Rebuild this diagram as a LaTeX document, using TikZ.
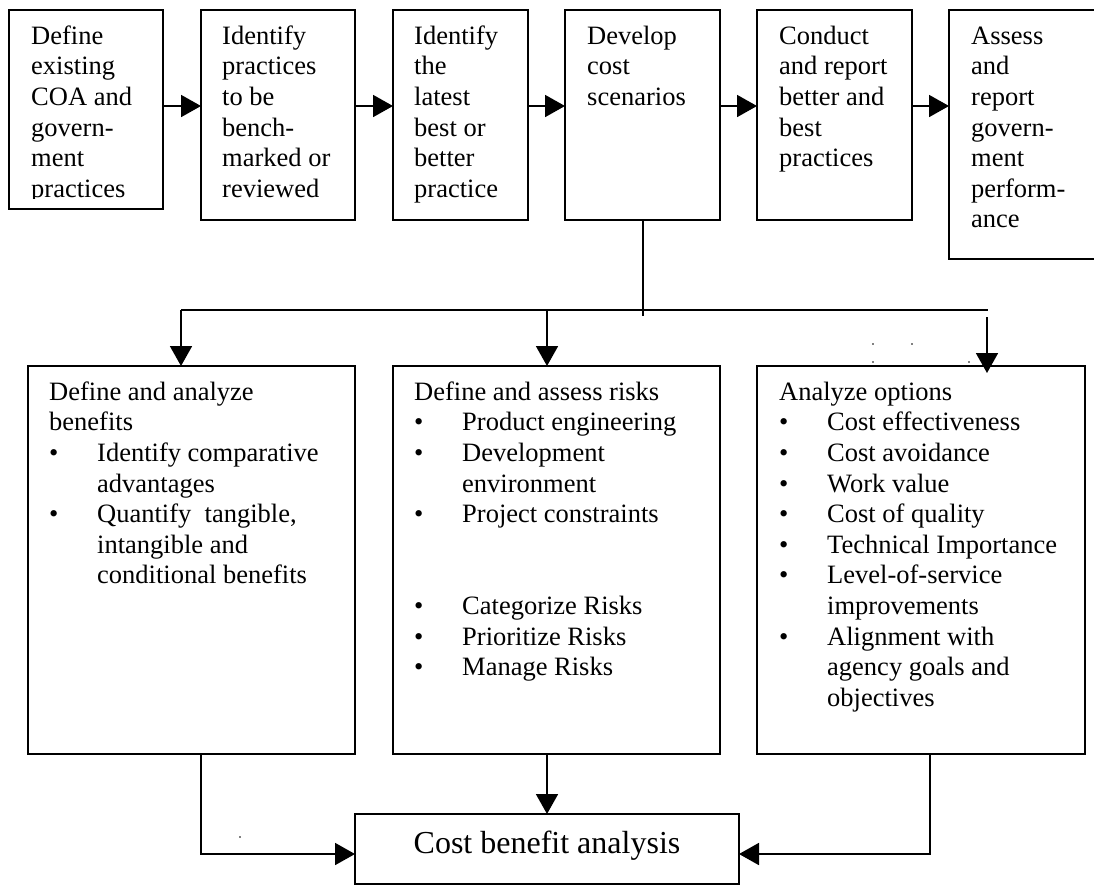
\documentclass[tikz,border=0pt]{standalone}
\usepackage{fontspec}
\setmainfont{Liberation Serif}
\usetikzlibrary{arrows.meta,calc}
\newcommand\myb{\makebox[48pt][l]{•}}
\newcommand\myi{\hspace*{48pt}}
\newcommand\mytext[2]{\begin{minipage}[t]{#1}\fontsize{26.5}{30.6}\selectfont\raggedright\strut #2\par\end{minipage}}
\begin{document}
\begin{tikzpicture}[x=1pt,y=-1pt,
  box/.style={draw, line width=1.8pt, rectangle, inner sep=0pt, outer sep=0pt, anchor=north west,
    minimum width=#1},
  txt/.style={anchor=north west, inner sep=0pt},
  arr/.style={line width=1.8pt, -{Triangle[length=20pt,width=22pt]}},
  ln/.style={line width=1.8pt},
]
\useasboundingbox (0,0) rectangle (1094,884);
% top boxes
\node[box=154pt, minimum height=199pt] (b1) at (9,10) {};
\node[box=154pt, minimum height=210pt] (b2) at (201,10) {};
\node[box=135pt, minimum height=210pt] (b3) at (393,10) {};
\node[box=155pt, minimum height=210pt] (b4) at (565,10) {};
\node[box=155pt, minimum height=210pt] (b5) at (757,10) {};
\node[box=147pt, minimum height=249pt] (b6) at (949,10) {};
\begin{scope}
\clip (0,0) rectangle (1094,198);
\node[txt] (t1) at (31,22.58) {\mytext{140pt}{Define\\existing\\COA and\\govern-\\ment\\practices}};
\end{scope}
\node[txt] (t2) at (222,22.58) {\mytext{140pt}{Identify\\practices\\to be\\bench-\\marked or\\reviewed}};
\node[txt] (t3) at (414,22.58) {\mytext{130pt}{Identify\\the\\latest\\best or\\better\\practice}};
\node[txt] (t4) at (587,22.58) {\mytext{140pt}{Develop\\cost\\scenarios}};
\node[txt] (t5) at (779,22.58) {\mytext{140pt}{Conduct\\and report\\better and\\best\\practices}};
\node[txt] (t6) at (971,22.58) {\mytext{120pt}{Assess\\and\\report\\govern-\\ment\\perform-\\ance}};
% bottom boxes
\node[box=327pt, minimum height=388pt] (l1) at (28,366) {};
\node[box=327pt, minimum height=388pt] (l2) at (393,366) {};
\node[box=328pt, minimum height=388pt] (l3) at (757,366) {};
\node[txt] (u1) at (49,378.58) {\mytext{300pt}{Define and analyze\\benefits\\\myb Identify comparative\\\myi advantages\\\myb Quantify\ \ tangible,\\\myi intangible and\\\myi conditional benefits}};
\node[txt] (u2) at (414,378.58) {\mytext{300pt}{Define and assess risks\\\myb Product engineering\\\myb Development\\\myi environment\\\myb Project constraints\\[61.2pt]\myb Categorize Risks\\\myb Prioritize Risks\\\myb Manage Risks}};
\node[txt] (u3) at (779,378.58) {\mytext{300pt}{Analyze options\\\myb Cost effectiveness\\\myb Cost avoidance\\\myb Work value\\\myb Cost of quality\\\myb Technical Importance\\\myb Level-of-service\\\myi improvements\\\myb Alignment with\\\myi agency goals and\\\myi objectives}};
% cost benefit analysis
\node[box=384pt, minimum height=70pt] (cba) at (355,814) {};
\node[anchor=base, inner sep=0pt, font=\fontsize{32}{38}\selectfont] (cbat) at (547,853) {Cost benefit analysis};
% top connectors
\coordinate (ay) at (0,106);
\draw[arr] (b1.east |- ay) -- (b2.west |- ay);
\draw[arr] (b2.east |- ay) -- (b3.west |- ay);
\draw[arr] (b3.east |- ay) -- (b4.west |- ay);
\draw[arr] (b4.east |- ay) -- (b5.west |- ay);
\draw[arr] (b5.east |- ay) -- (b6.west |- ay);
% distribution
\coordinate (jn) at (643,316);
\coordinate (hl) at (181,310);
\coordinate (hm) at (547,310);
\coordinate (hr) at (988,310);
\coordinate (rs) at (987,317);
\draw[ln] (b4.south -| jn) -- (jn);
\draw[ln] (hl) -- (hr);
\draw[arr] (hl) -- (hl |- l1.north);
\draw[arr] (hm) -- (hm |- l2.north);
\draw[arr] (rs) -- ($(rs |- l3.north)+(0,7)$);
% to cost benefit analysis
\coordinate (bl) at (201,854);
\coordinate (br) at (930,854);
\draw[arr] (bl |- l1.south) -- (bl) -- (cba.west |- bl);
\draw[arr] (br |- l3.south) -- (br) -- (cba.east |- br);
\draw[arr] (l2.south -| hm) -- (cba.north -| hm);
% stray dots
\fill (873,344) circle (0.9);
\fill (912,344) circle (0.9);
\fill (873,362) circle (0.9);
\fill (969,362) circle (0.9);
\fill (240,837) circle (0.9);
\end{tikzpicture}
\end{document}
